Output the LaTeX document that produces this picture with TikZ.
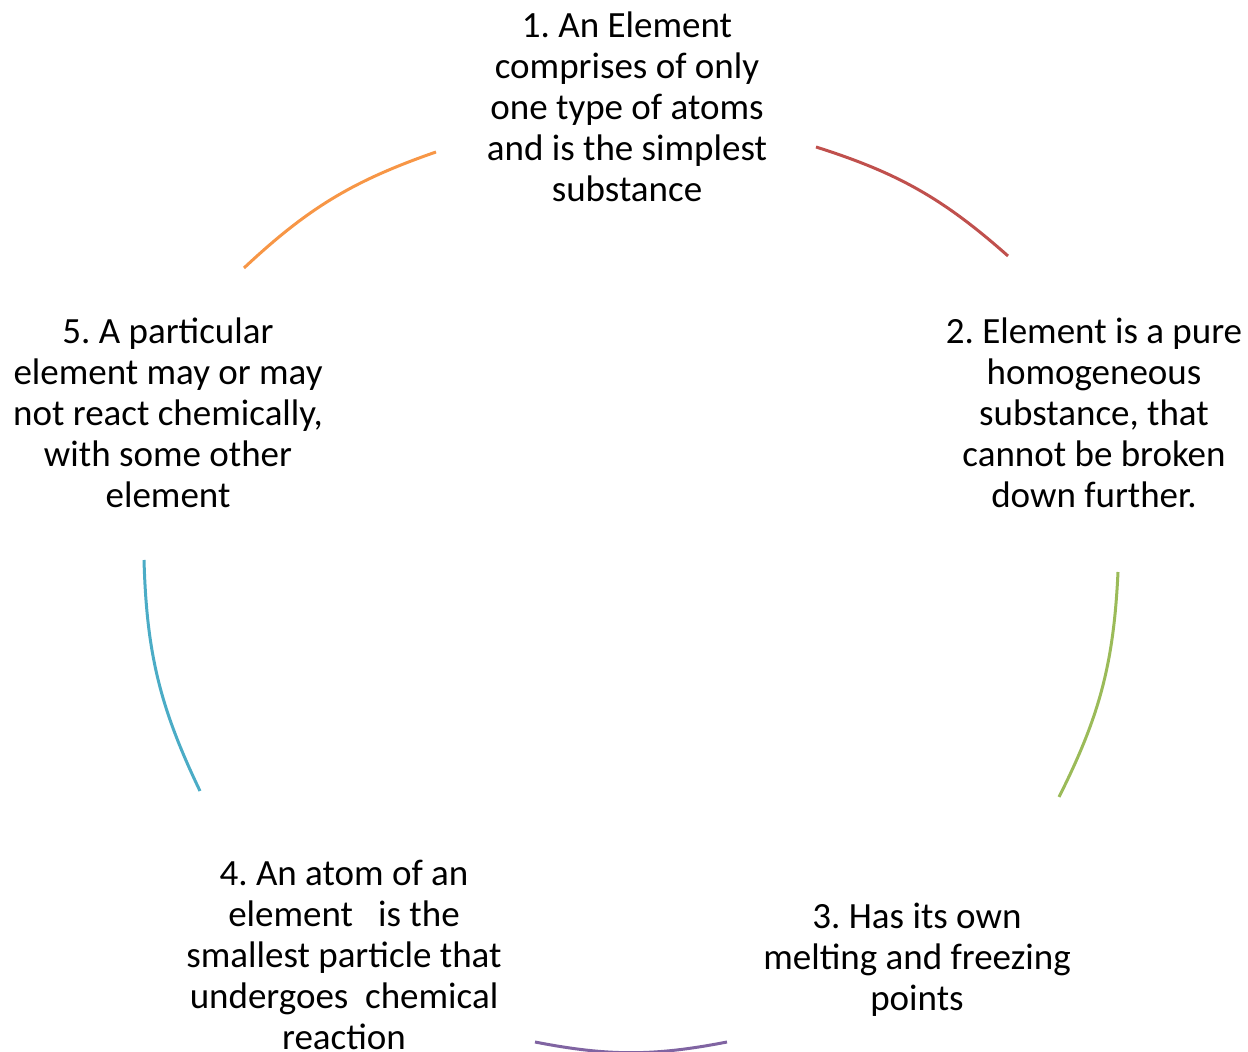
\documentclass[tikz,border=0pt]{standalone}
\usepackage{fontspec}
\setmainfont{Carlito}
\usepackage{tikz}
\usepackage{xcolor}
\definecolor{cyclered}{RGB}{192, 80, 77}
\definecolor{cyclegreen}{RGB}{155, 187, 89}
\definecolor{cyclepurple}{RGB}{128, 100, 162}
\definecolor{cycleaqua}{RGB}{75, 172, 198}
\definecolor{cycleorange}{RGB}{247, 150, 70}
\frenchspacing

\begin{document}
\begin{tikzpicture}[
    x=0.5pt, y=0.5pt,
    cycletext/.style={align=center, inner sep=0pt,
        font=\fontsize{18.5}{20.5}\selectfont},
    cyclearc/.style={draw=#1, line width=1.5pt, bend left=12},
    cyclearc/.default=black
]

    \useasboundingbox (0, 0) rectangle (1248, -1052);

    % ==========================================
    % STATEMENTS
    % ==========================================
    \node[cycletext] (st_one) at (627, -107) {1. An Element\\comprises of only\\one type of atoms\\and is the simplest\\substance};
    \node[cycletext] (st_two) at (1094, -413) {2. Element is a pure\\homogeneous\\substance, that\\cannot be broken\\down further.};
    \node[cycletext] (st_three) at (917, -960) {3. Has its own\\melting and freezing\\points};
    \node[cycletext] (st_four) at (344, -955) {4. An atom of an\\element\ \ \ is the\\smallest particle that\\undergoes\ \ chemical\\reaction};
    \node[cycletext] (st_five) at (168, -413) {5. A particular\\element may or may\\not react chemically,\\with some other\\element};

    % ==========================================
    % ARC END POINTS
    % ==========================================
    \coordinate (a12_s) at (816, -147);
    \coordinate (a12_e) at (1008, -256);

    \coordinate (a23_s) at (1118, -572);
    \coordinate (a23_e) at (1059, -797);

    \coordinate (a34_s) at (727, -1042);
    \coordinate (a34_e) at (535, -1042);

    \coordinate (a45_s) at (200, -791);
    \coordinate (a45_e) at (144, -560);

    \coordinate (a51_s) at (244, -268);
    \coordinate (a51_e) at (436, -152);

    % ==========================================
    % CYCLE ARCS
    % ==========================================
    \draw[cyclearc=cyclered] (a12_s) to (a12_e);
    \draw[cyclearc=cyclegreen] (a23_s) to (a23_e);
    \draw[cyclearc=cyclepurple, bend left=11] (a34_s) to (a34_e);
    \draw[cyclearc=cycleaqua] (a45_s) to (a45_e);
    \draw[cyclearc=cycleorange] (a51_s) to (a51_e);

\end{tikzpicture}
\end{document}
